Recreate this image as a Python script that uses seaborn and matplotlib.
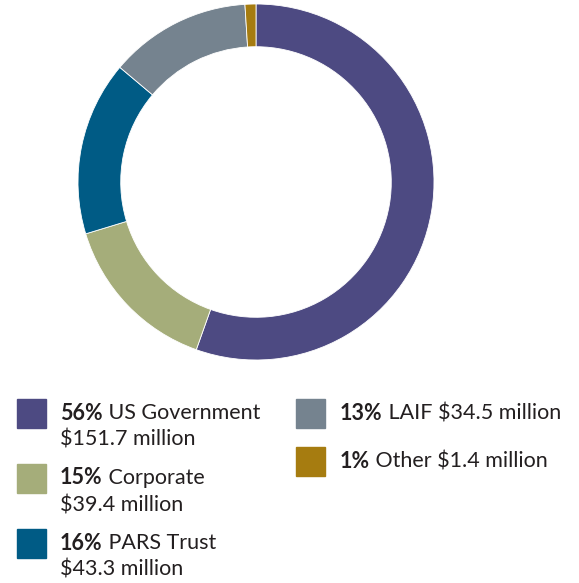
import matplotlib
matplotlib.use("Agg")
import matplotlib.pyplot as plt
import seaborn as sns

# Portfolio allocation by investment type
categories = ["US Government", "Corporate", "PARS Trust", "LAIF", "Other"]
percents = [56, 15, 16, 13, 1]
amounts = [151.7, 39.4, 43.3, 34.5, 1.4]  # $ millions
colors = ["#4D4A82", "#A5AD7A", "#005B85", "#75838F", "#A67C10"]

sns.set_theme(style="white")
plt.rcParams["font.family"] = ["Lato", "DejaVu Sans"]

W, H = 579, 583
fig = plt.figure(figsize=(W / 100, H / 100), dpi=100)
fig.patch.set_facecolor("white")

# donut
cx, cy, r = 256, 182, 178
ax = fig.add_axes([(cx - r) / W, (H - cy - r) / H, 2 * r / W, 2 * r / H])
ax.pie(percents, colors=colors, startangle=90, counterclock=False, radius=1,
       wedgeprops=dict(width=0.24, edgecolor="white", linewidth=0.6))
ax.set_xlim(-1, 1)
ax.set_ylim(-1, 1)
ax.set_aspect("equal")
ax.axis("off")

# legend: (square x, square top y, text x, two-line?)
layout = [
    (17, 399, 60, True),
    (17, 464, 60, True),
    (17, 529, 60, True),
    (296, 399, 340, False),
    (296, 447, 340, False),
]
fs = 15.5
tcolor = "#231F20"
fig.canvas.draw()
renderer = fig.canvas.get_renderer()
sq = 29
for (sx, sy, tx, two), cat, amt, pct, col in zip(layout, categories, amounts, percents, colors):
    fig.patches.append(plt.Rectangle((sx / W, (H - sy - sq) / H), sq / W, sq / H,
                                     transform=fig.transFigure, color=col, figure=fig))
    y1 = sy + 14
    b = fig.text(tx / W, (H - y1) / H, f"{pct}%", fontsize=fs, fontweight="bold",
                 color=tcolor, va="center", ha="left")
    bw = b.get_window_extent(renderer).width
    rest = f" {cat}" if two else f" {cat} ${amt:g} million"
    fig.text((tx + bw) / W, (H - y1) / H, rest, fontsize=fs, color=tcolor,
             va="center", ha="left")
    if two:
        fig.text(tx / W, (H - y1 - 27) / H, f"${amt:g} million", fontsize=fs,
                 color=tcolor, va="center", ha="left")

fig.savefig("out.png", dpi=100, facecolor="white")
